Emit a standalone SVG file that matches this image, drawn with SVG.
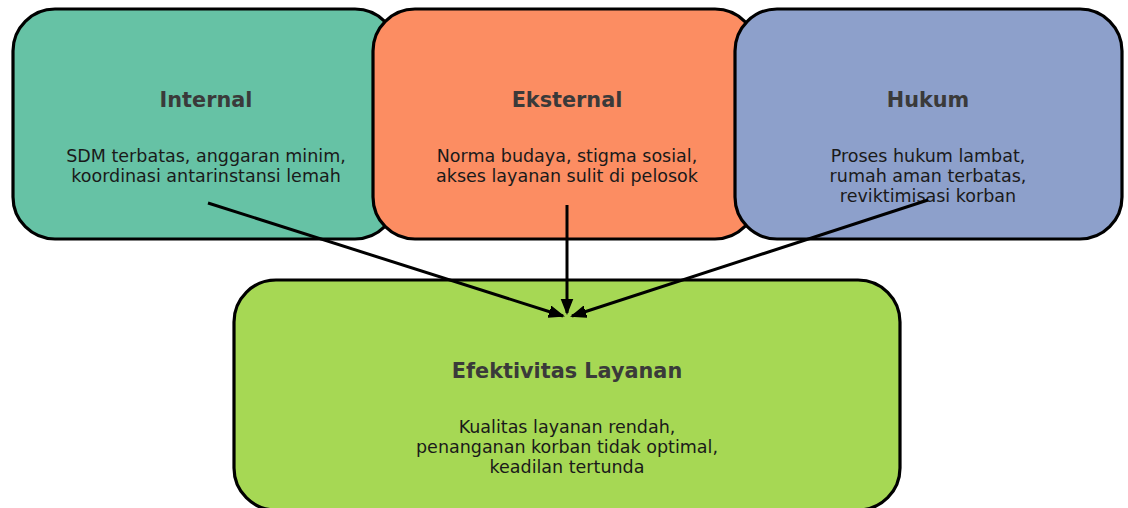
<svg xmlns="http://www.w3.org/2000/svg" width="1128" height="508" viewBox="0 0 1128 508">
<defs>
<marker id="ah" markerUnits="userSpaceOnUse" markerWidth="16" markerHeight="14" refX="14" refY="6" orient="auto" viewBox="0 0 16 12">
<path d="M0,0.5 L14,6 L0,11.5 Z" fill="#000" stroke="#000" stroke-width="1.5" stroke-linejoin="miter"/>
</marker>
<style>
.box{stroke:#000;stroke-width:3.2}
.t{font-family:"DejaVu Sans",sans-serif;font-weight:bold;font-size:20.8px;fill:#3a3a3a;text-anchor:middle}
.b{font-family:"DejaVu Sans",sans-serif;font-size:17.5px;fill:#1a1a1a;text-anchor:middle}
.c{stroke:#000;stroke-width:3;fill:none}
</style>
</defs>
<rect width="1128" height="508" fill="#fff"/>
<g id="internal">
<rect class="box" x="13" y="9" width="384" height="230" rx="42" fill="#66c2a5"/>
<text class="t" x="206" y="107">Internal</text>
<text class="b" x="206" y="162">SDM terbatas, anggaran minim,</text>
<text class="b" x="206" y="182">koordinasi antarinstansi lemah</text>
</g>
<g id="eksternal">
<rect class="box" x="373" y="9" width="384" height="230" rx="42" fill="#fc8d62"/>
<text class="t" x="567" y="107">Eksternal</text>
<text class="b" x="567" y="162">Norma budaya, stigma sosial,</text>
<text class="b" x="567" y="182">akses layanan sulit di pelosok</text>
</g>
<g id="hukum">
<rect class="box" x="735" y="9" width="387" height="230" rx="42" fill="#8da0cb"/>
<text class="t" x="928" y="107">Hukum</text>
<text class="b" x="928" y="162">Proses hukum lambat,</text>
<text class="b" x="928" y="182">rumah aman terbatas,</text>
<text class="b" x="928" y="202">reviktimisasi korban</text>
</g>
<g id="efektivitas">
<rect class="box" x="234" y="280" width="666" height="230" rx="42" fill="#a6d854"/>
<text class="t" x="567" y="378">Efektivitas Layanan</text>
<text class="b" x="567" y="433">Kualitas layanan rendah,</text>
<text class="b" x="567" y="453">penanganan korban tidak optimal,</text>
<text class="b" x="567" y="473">keadilan tertunda</text>
</g>
<g id="connectors">
<line class="c" x1="208" y1="203" x2="563" y2="316" marker-end="url(#ah)"/>
<line class="c" x1="567" y1="205" x2="567" y2="313" marker-end="url(#ah)"/>
<line class="c" x1="928" y1="200" x2="572" y2="316" marker-end="url(#ah)"/>
</g>
</svg>
